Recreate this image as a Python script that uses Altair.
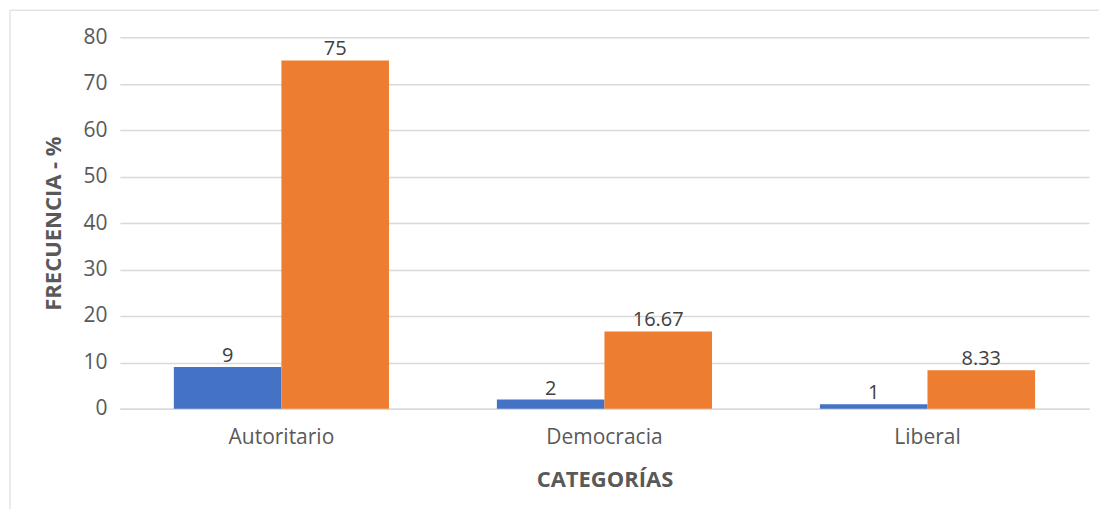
import altair as alt
import pandas as pd

categorias = ["Autoritario", "Democracia", "Liberal"]
frecuencia = [9, 2, 1]
porcentaje = [75, 16.67, 8.33]
series = ["Frecuencia", "%"]
colores = ["#4472C4", "#ED7D31"]
y_ticks = [0, 10, 20, 30, 40, 50, 60, 70, 80]

rows = []
for c, f, p in zip(categorias, frecuencia, porcentaje):
    rows.append({"categoria": c, "serie": series[0], "valor": f})
    rows.append({"categoria": c, "serie": series[1], "valor": p})
df = pd.DataFrame(rows)

FONT = "Open Sans"

x_enc = alt.X("categoria:N", sort=categorias,
              scale=alt.Scale(paddingInner=0.334, paddingOuter=0.167),
              axis=alt.Axis(title="CATEGORÍAS", labelAngle=0))
xo_enc = alt.XOffset("serie:N", sort=series,
                     scale=alt.Scale(paddingInner=0, paddingOuter=0))
y_enc = alt.Y("valor:Q",
              scale=alt.Scale(domain=[0, 80], nice=False),
              axis=alt.Axis(title="FRECUENCIA - %", values=y_ticks))

base = alt.Chart(df)

bars = base.mark_bar().encode(
    x=x_enc, xOffset=xo_enc, y=y_enc,
    color=alt.Color("serie:N", sort=series,
                    scale=alt.Scale(domain=series, range=colores),
                    legend=None),
)

labels = base.mark_text(baseline="alphabetic", dy=-5, font=FONT,
                        fontSize=20, color="#404040").encode(
    x=x_enc, xOffset=xo_enc, y=y_enc,
    text=alt.Text("valor:Q", format=".4~g"),
)

border_top = alt.Chart(pd.DataFrame({"k": [0]})).mark_rule(
    color="#e3e3e3", strokeWidth=1.5, clip=False).encode(
    x=alt.value(-110), x2=alt.value(990), y=alt.value(-27))
border_left = alt.Chart(pd.DataFrame({"k": [0]})).mark_rule(
    color="#e3e3e3", strokeWidth=1.5, clip=False).encode(
    x=alt.value(-110), y=alt.value(-27), y2=alt.value(485))

chart = alt.layer(border_top, border_left, bars, labels).properties(
    width=970, height=372,
    autosize=alt.AutoSizeParams(type="none"),
    padding={"left": 112, "top": 29, "right": 10, "bottom": 100},
).configure_view(stroke=None).configure_axis(
    labelFont=FONT, labelFontSize=21, labelColor="#595959",
    titleFont=FONT, titleFontSize=22, titleColor="#595959",
    titleFontWeight="bold",
).configure_axisY(
    grid=True, gridColor="#d9d9d9", gridWidth=1.5, domain=False, ticks=False,
    labelPadding=13, titlePadding=17,
).configure_axisX(
    grid=False, domain=True, domainColor="#d9d9d9", domainWidth=1.5,
    ticks=False, labelPadding=18, titlePadding=22,
)

chart.save("out.html", embed_options={"renderer": "svg", "actions": False})
